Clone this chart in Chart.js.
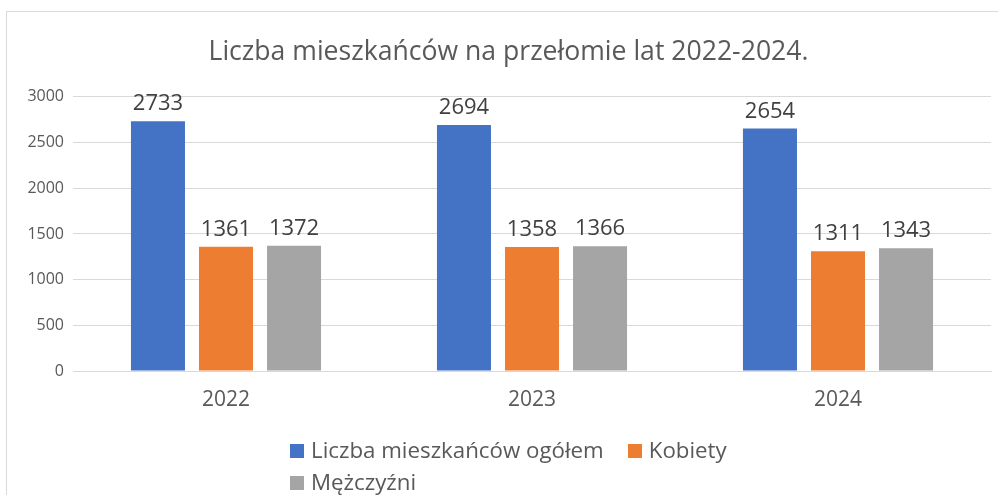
<!DOCTYPE html>
<html lang="pl">
<head>
<meta charset="utf-8">
<script src="https://cdn.jsdelivr.net/npm/chart.js@4.4.1/dist/chart.umd.min.js"></script>
<style>
    html, body { margin: 0; padding: 0; background: #fff; overflow: hidden; }
    #frame {
        position: absolute; left: 6px; top: 11px; width: 1000px; height: 500px;
        border: 1px solid #d9d9d9; box-sizing: border-box;
    }
    #chart-box { position: absolute; left: 0; top: 0; width: 998px; height: 495px; }
    #legend {
        position: absolute; left: 290px; top: 434px; width: 480px;
        font-family: "Open Sans", sans-serif; font-size: 22.3px; color: #595959;
    }
    #legend .item { display: inline-block; height: 32px; line-height: 32px; margin-right: 24px; white-space: nowrap; }
    #legend .box { display: inline-block; width: 14px; height: 14px; margin-right: 7px; vertical-align: 0px; }
</style>
</head>
<body>
<div id="frame"></div>
<div id="chart-box"><canvas id="chart"></canvas></div>
<div id="legend"></div>
<script>
const title = "Liczba mieszkańców na przełomie lat 2022-2024.";
const years = ["2022", "2023", "2024"];
const seriesNames = ["Liczba mieszkańców ogółem", "Kobiety", "Mężczyźni"];
const total = [2733, 2694, 2654];
const women = [1361, 1358, 1311];
const men = [1372, 1366, 1343];
const yTicks = [0, 500, 1000, 1500, 2000, 2500, 3000];

const colors = ['#4472c4', '#ed7d31', '#a5a5a5'];
const fontFamily = '"Open Sans", sans-serif';

// value labels above every bar
const valueLabels = {
    id: 'valueLabels',
    afterDatasetsDraw(chart) {
        const ctx = chart.ctx;
        ctx.save();
        ctx.font = '22px ' + fontFamily;
        ctx.fillStyle = '#404040';
        ctx.textAlign = 'center';
        ctx.textBaseline = 'alphabetic';
        chart.data.datasets.forEach((ds, i) => {
            chart.getDatasetMeta(i).data.forEach((bar, j) => {
                ctx.fillText(ds.data[j], bar.x, bar.y - 11);
            });
        });
        ctx.restore();
    }
};

function buildLegend(chart) {
    const legend = document.getElementById('legend');
    chart.data.datasets.forEach(ds => {
        const item = document.createElement('span');
        item.className = 'item';
        const box = document.createElement('span');
        box.className = 'box';
        box.style.background = ds.backgroundColor;
        item.appendChild(box);
        item.appendChild(document.createTextNode(ds.label));
        legend.appendChild(item);
        if (ds === chart.data.datasets[1]) legend.appendChild(document.createElement('br'));
    });
}

const datasets = [total, women, men].map((values, i) => ({
    label: seriesNames[i],
    data: values,
    backgroundColor: colors[i],
    borderWidth: 0,
    categoryPercentage: 0.667,
    barPercentage: 0.794,
}));

const chart = new Chart(document.getElementById('chart').getContext('2d'), {
    type: 'bar',
    data: { labels: years, datasets: datasets },
    options: {
        responsive: true,
        maintainAspectRatio: false,
        animation: false,
        layout: { padding: { left: 26, right: 7, top: 0, bottom: 74 } },
        plugins: {
            legend: { display: false },
            tooltip: { enabled: false },
            title: {
                display: true,
                text: title,
                color: '#595959',
                font: { family: fontFamily, size: 26.6, weight: 'normal', lineHeight: 1.2 },
                padding: { top: 36, bottom: 29 },
            },
        },
        scales: {
            x: {
                grid: { display: false },
                border: { color: '#d9d9d9', width: 1 },
                ticks: { color: '#595959', font: { family: fontFamily, size: 21 }, padding: 8 },
                afterFit: s => { s.height = 50; },
            },
            y: {
                min: 0,
                max: 3000,
                afterBuildTicks: s => { s.ticks = yTicks.map(v => ({ value: v })); },
                grid: { color: '#d9d9d9', drawTicks: false },
                border: { display: false },
                ticks: {
                    color: '#595959',
                    font: { family: fontFamily, size: 16 },
                    padding: 9,
                    callback: v => String(v),
                },
                afterFit: s => { s.width = 47; },
            },
        },
    },
    plugins: [valueLabels],
});

buildLegend(chart);
</script>
</body>
</html>
